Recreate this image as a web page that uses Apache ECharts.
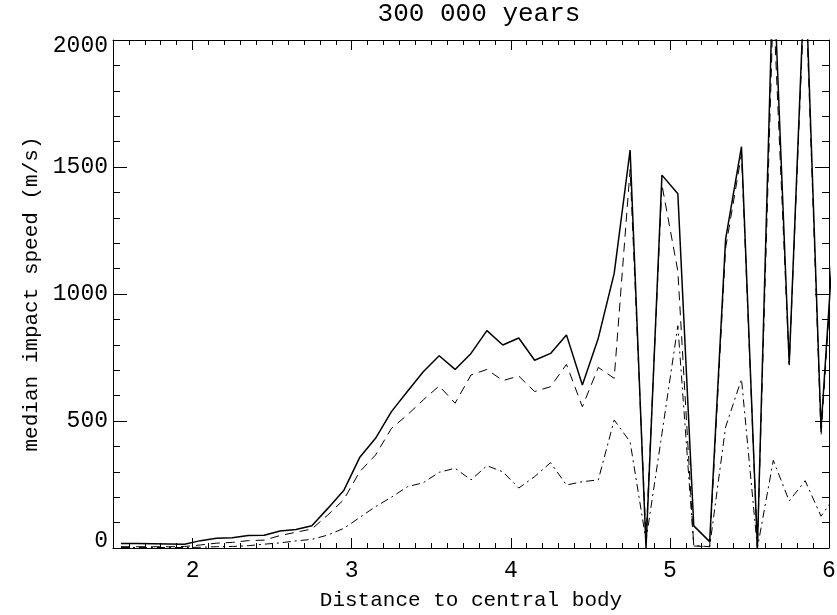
<!DOCTYPE html>
<html>
<head>
<meta charset="utf-8">
<script src="https://cdn.jsdelivr.net/npm/echarts@6/dist/echarts.min.js"></script>
<style>
html,body{margin:0;padding:0;background:#fff;}
#chart{width:837px;height:615px;}
</style>
</head>
<body>
<div id="chart"></div>
<script>
// Distance to central body (bin centres)
const distance = [1.55,1.65,1.75,1.85,1.95,2.05,2.15,2.25,2.35,2.45,2.55,2.65,2.75,2.85,2.95,3.05,3.15,3.25,3.35,3.45,3.55,3.65,3.75,3.85,3.95,4.05,4.15,4.25,4.35,4.45,4.55,4.65,4.75,4.85,4.95,5.05,5.15,5.25,5.35,5.45,5.55,5.65,5.75,5.85,5.95,6.05];
// median impact speed (m/s)
const solidSeries = [18,18,17,16,15,29,38,40,49,50,67,73,88,156,226,356,432,537,616,694,757,703,766,856,799,827,739,766,839,642,826,1081,1567,0,1468,1395,87,25,1215,1580,0,2300,725,2300,470,1430];
const dashedSeries = [5,5,5,5,6,12,19,22,29,31,49,62,75,130,190,300,366,471,524,583,638,570,681,703,659,677,616,635,723,556,711,668,1490,35,1430,1090,8,5,1180,1550,0,2150,720,2250,440,1400];
const dashDotSeries = [2,2,2,2,2,3,5,6,9,15,20,28,34,51,77,120,163,200,241,257,298,314,268,324,300,236,281,336,248,261,268,504,418,30,450,875,10,5,476,665,0,345,185,265,125,215];
// ticks
const xMajorTicks = [2,3,4,5,6];
const yTicks = [0,500,1000,1500,2000];

const titleText = '300 000 years';
const xName = 'Distance to central body';
const yName = 'median impact speed (m/s)';

const FONT = 'Liberation Mono';

function pairs(ys){ return distance.map((x,i)=>[x, ys[i]]); }

const chart = echarts.init(document.getElementById('chart'), null, {renderer:'canvas'});

function xAxisDef(pos, major, withLabels){
  const a = {
    type:'value', position:pos, min:1.5, max:6,
    interval: major ? 0.5 : 0.1,
    axisLine:{show: major, onZero:false, lineStyle:{color:'#000', width:1}},
    splitLine:{show:false},
    axisTick:{show:true, inside:true, length: major?10:5, lineStyle:{color:'#000', width:1}},
    axisLabel:{show:false},
    minorTick:{show:false}
  };
  if (major){
    a.axisTick.customValues = xMajorTicks;
    if (withLabels){
      a.axisLabel = {show:true, customValues: xMajorTicks, margin:11, color:'#000', fontFamily:FONT, fontSize:23,
        formatter: v => String(Math.round(v))};
      a.name = xName;
      a.nameLocation = 'middle';
      a.nameGap = 42;
      a.nameTextStyle = {color:'#000', fontFamily:FONT, fontSize:21};
    }
  }
  return a;
}

function yAxisDef(pos, withLabels){
  const a = {
    type:'value', position:pos, min:0, max:2000, interval:500,
    axisLine:{show:true, onZero:false, lineStyle:{color:'#000', width:1}},
    splitLine:{show:false},
    axisTick:{show:true, inside:true, length:14, lineStyle:{color:'#000', width:1}},
    minorTick:{show:true, splitNumber:5, length:7, lineStyle:{color:'#000', width:1}},
    axisLabel:{show:false}
  };
  if (withLabels){
    a.axisLabel = {show:true, margin:5, color:'#000', fontFamily:FONT, fontSize:23,
      formatter: v => {
        if (v === 2000) return '{top|' + v + '}';
        if (v === 0) return '{bot|' + v + '}';
        return String(v);
      },
      rich:{
        top:{fontFamily:FONT, fontSize:23, color:'#000', padding:[12,0,0,0]},
        bot:{fontFamily:FONT, fontSize:23, color:'#000', padding:[0,0,14,0]}
      }
    };
    a.name = yName;
    a.nameLocation = 'middle';
    a.nameGap = 70;
    a.nameTextStyle = {color:'#000', fontFamily:FONT, fontSize:21};
  }
  return a;
}

const option = {
  animation:false,
  backgroundColor:'#fff',
  title:{
    text:titleText, left:479, top:1, textAlign:'center', padding:0,
    textStyle:{color:'#000', fontFamily:FONT, fontSize:26, fontWeight:'normal'}
  },
  grid:{left:113, right:8, top:40, bottom:67, containLabel:false, outerBoundsMode:'none'},
  xAxis:[
    xAxisDef('bottom', true, true),
    xAxisDef('bottom', false, false),
    xAxisDef('top', true, false),
    xAxisDef('top', false, false)
  ],
  yAxis:[
    yAxisDef('left', true),
    yAxisDef('right', false)
  ],
  series:[
    {type:'line', name:'solid', xAxisIndex:0, yAxisIndex:0, data:pairs(solidSeries), showSymbol:false, symbol:'none', clip:true,
      lineStyle:{color:'#000', width:1.5, type:'solid'}},
    {type:'line', name:'dashed', xAxisIndex:0, yAxisIndex:0, data:pairs(dashedSeries), showSymbol:false, symbol:'none', clip:true,
      lineStyle:{color:'#000', width:1, type:[9,6]}},
    {type:'line', name:'dashdot', xAxisIndex:0, yAxisIndex:0, data:pairs(dashDotSeries), showSymbol:false, symbol:'none', clip:true,
      lineStyle:{color:'#000', width:1, type:[8,4,2,4]}}
  ]
};
chart.setOption(option);
</script>
</body>
</html>
